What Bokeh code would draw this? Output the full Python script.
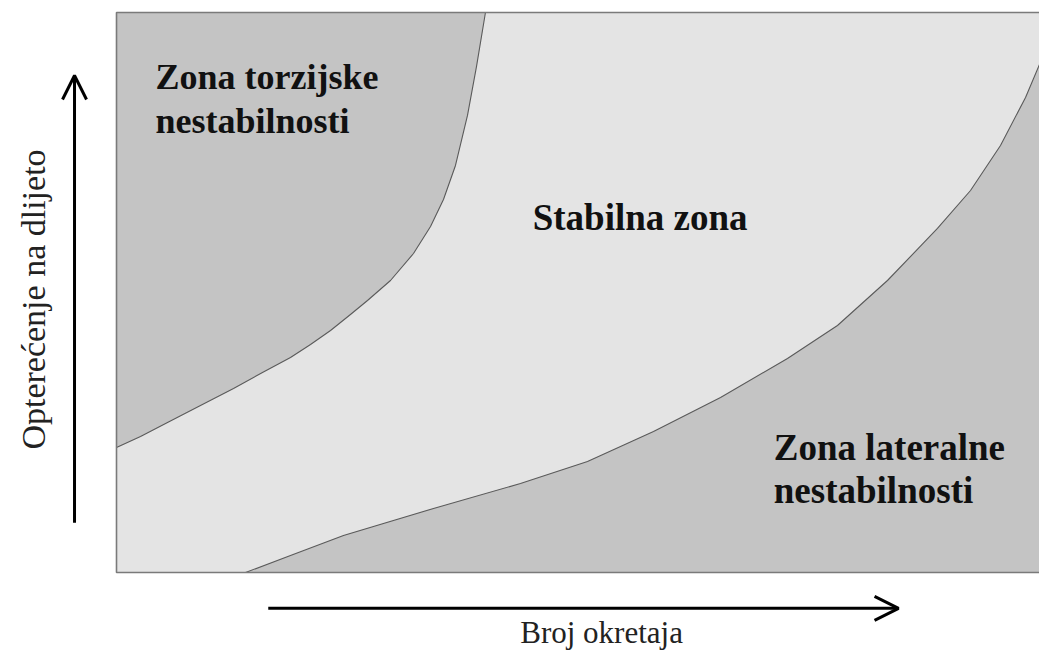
import math
from bokeh.plotting import figure
from bokeh.models import Range1d, Arrow, OpenHead
from bokeh.core.properties import value
from bokeh.embed import file_html
from bokeh.resources import INLINE

# Boundary of the torsional-instability zone (rpm %, load %)
torsion_rpm = [0.0, 2.58, 5.48, 9.02, 12.57, 15.68, 18.69, 20.84, 22.99, 25.13,
               26.96, 29.43, 31.90, 33.73, 35.12, 36.41, 37.70, 38.67, 39.63]
torsion_load = [22.32, 24.29, 26.79, 29.82, 32.86, 35.71, 38.39, 40.71, 43.21, 46.07,
                48.57, 52.14, 56.96, 61.79, 66.61, 72.68, 81.61, 90.36, 100.0]

# Boundary of the lateral-instability zone (rpm %, load %)
lateral_rpm = [13.86, 18.69, 24.38, 34.05, 43.39, 50.59, 57.68, 64.88, 72.07, 77.44,
               82.81, 88.18, 91.73, 94.95, 97.64, 100.0]
lateral_load = [0.0, 3.04, 6.61, 11.43, 15.89, 19.82, 25.18, 31.25, 38.21, 44.11,
                52.14, 61.43, 68.21, 76.25, 84.82, 94.11]

zone_labels = ["Zona torzijske", "nestabilnosti", "Stabilna zona", "Zona lateralne", "nestabilnosti"]
x_label = "Broj okretaja"
y_label = "Opterećenje na dlijeto"

DARK = "#c4c4c4"
LIGHT = "#e4e4e4"
EDGE = "#5a5a5a"

p = figure(width=1039, height=650, output_backend="svg", toolbar_location=None,
           x_range=Range1d(-12.46, 99.14), y_range=Range1d(-13.93, 102.14),
           x_axis_location=None, y_axis_location=None, min_border=0)
p.grid.visible = False
p.outline_line_color = None
p.background_fill_color = "white"
p.border_fill_color = "white"

# stable zone background (whole diagram box)
p.quad(left=0, right=103, bottom=0, top=100, fill_color=LIGHT, line_color=None)

# torsional instability zone
p.patch(torsion_rpm + [0.0], torsion_load + [100.0], fill_color=DARK, line_color=None)
# lateral instability zone
p.patch(lateral_rpm + [103.0, 103.0], lateral_load + [lateral_load[-1], 0.0],
        fill_color=DARK, line_color=None)

p.line(torsion_rpm, torsion_load, line_color=EDGE, line_width=1.1, line_join="round")
p.line(lateral_rpm, lateral_load, line_color=EDGE, line_width=1.1, line_join="round")

# box outline
p.quad(left=0, right=103, bottom=0, top=100, fill_color=None, line_color="#7a7a7a", line_width=1.6)

bold_font = value("Liberation Serif")
p.text(x=[4.19, 4.19], y=[88.4, 80.7], text=zone_labels[0:2], text_font=bold_font,
       text_font_size="36px", text_font_style="bold", text_color="#111111",
       text_baseline="alphabetic", text_align="left")
p.text(x=[44.7], y=[63.4], text=[zone_labels[2]], text_font=bold_font,
       text_font_size="37px", text_font_style="bold", text_color="#111111",
       text_baseline="alphabetic", text_align="left")
p.text(x=[70.6, 70.6], y=[22.3, 14.6], text=zone_labels[3:5], text_font=bold_font,
       text_font_size="37px", text_font_style="bold", text_color="#111111",
       text_baseline="alphabetic", text_align="left")

# axis arrows
p.add_layout(Arrow(end=OpenHead(size=24, line_width=3, line_color="black"),
                   x_start=-4.51, y_start=8.9, x_end=-4.51, y_end=88.75,
                   line_width=3, line_color="black"))
p.add_layout(Arrow(end=OpenHead(size=24, line_width=3, line_color="black"),
                   x_start=16.3, y_start=-6.4, x_end=84.0, y_end=-6.4,
                   line_width=3, line_color="black"))

# axis labels
p.text(x=[52.1], y=[-10.72], text=[x_label], text_font=value("Liberation Serif"),
       text_font_size="31px", text_color="#222222", text_align="center",
       text_baseline="alphabetic")
p.text(x=[-8.91], y=[48.75], text=[y_label], text_font=value("Liberation Serif"),
       text_font_size="34px", text_color="#222222", text_align="center",
       text_baseline="alphabetic", angle=math.pi / 2)

open("out.html", "w").write(file_html(p, INLINE))
